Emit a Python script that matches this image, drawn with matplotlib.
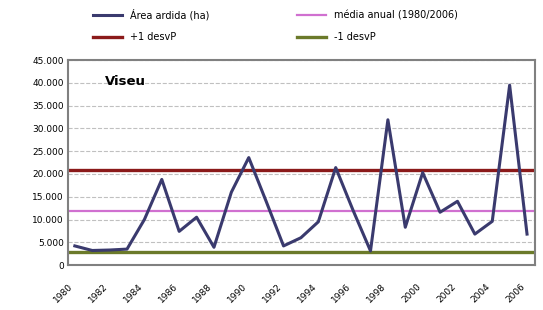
import matplotlib.pyplot as plt
import numpy as np

# area ardida por ano - Viseu
anos = np.arange(1980, 2007)
area_ardida = [4200, 3200, 3300, 3500, 10000, 18800, 7400, 10500, 3900, 16000,
               23600, 14000, 4200, 6000, 9500, 21400, 12000, 3100, 31900, 8300,
               20300, 11600, 14000, 6800, 9600, 39500, 6800]
media = 11800
desv_mais = 20800
desv_menos = 2800
anos_ticks = np.arange(1980, 2007, 2)

fig = plt.figure(figsize=(5.43, 3.10), dpi=100)
ax = fig.add_axes([0.125, 0.145, 0.86, 0.661])

l1, = ax.plot(anos, area_ardida, color='#3a3a6e', lw=2.2, label='Área ardida (ha)', zorder=5)
l2 = ax.axhline(media, color='#d070d0', lw=1.6, label='média anual (1980/2006)')
l3 = ax.axhline(desv_mais, color='#8b1a1a', lw=2.4, label='+1 desvP')
l4 = ax.axhline(desv_menos, color='#6b7a2a', lw=2.4, label='-1 desvP')

ax.set_ylim(0, 45000)
ax.set_xlim(1979.6, 2006.45)
ax.set_yticks(np.arange(0, 45001, 5000))
ax.set_yticklabels(['0' if v == 0 else f'{v:,}'.replace(',', '.') for v in range(0, 45001, 5000)],
                   fontsize=6.5)
ax.set_xticks(anos_ticks)
ax.set_xticklabels([str(a) for a in anos_ticks], rotation=45, ha='right', fontsize=6.5)
ax.tick_params(axis='y', length=0, pad=3)
ax.tick_params(axis='x', length=0, pad=12)
ax.grid(axis='y', color='#c0c0c0', ls='--', lw=0.8)
for s in ax.spines.values():
    s.set_color('#808080')
    s.set_linewidth(1.5)

ax.text(0.08, 0.88, 'Viseu', transform=ax.transAxes, fontsize=9.5, fontweight='bold')

# ordem: coluna 1 = area, +1 ; coluna 2 = media, -1
fig.legend([l1, l3, l2, l4], [l1.get_label(), l3.get_label(), l2.get_label(), l4.get_label()],
           loc='upper left', bbox_to_anchor=(0.155, 1.0), ncol=2, frameon=False,
           fontsize=7, handlelength=3, columnspacing=9, labelspacing=1.2)

plt.savefig('out.png', dpi=100)
